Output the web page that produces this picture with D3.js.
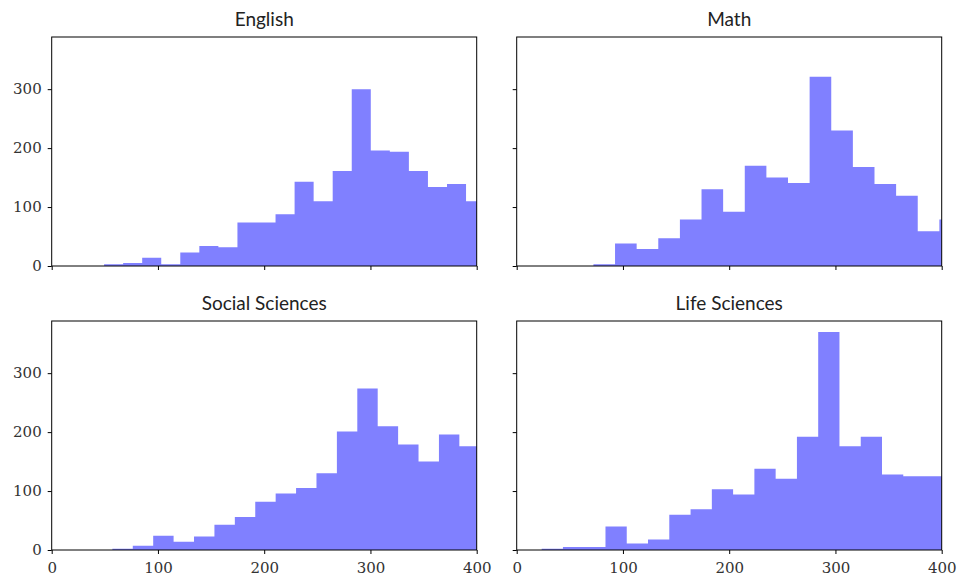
<!DOCTYPE html>
<html><head><meta charset="utf-8">
<script src="https://cdn.jsdelivr.net/npm/d3@7"></script>
<style>body{margin:0;background:#fff}</style>
</head><body>
<svg id="chart" width="958" height="582"></svg>
<script>
// Panel titles
const titles = ["English", "Math", "Social Sciences", "Life Sciences"];
// Histogram bin starts and widths (score units)
const binStarts = [49.3, 72.2, 57.1, 23.5];
const binWidths = [17.93, 20.35, 19.21, 20.02];
// Bin counts
const englishCounts = [3, 5, 14, 3, 23, 34, 32, 74, 74, 88, 143, 110, 161, 300, 196, 194, 161, 134, 139, 110];
const mathCounts = [3, 38, 29, 47, 79, 130, 92, 170, 150, 141, 321, 230, 168, 139, 119, 59, 79];
const socialCounts = [2, 7, 24, 14, 23, 43, 56, 82, 96, 105, 130, 201, 274, 210, 179, 150, 196, 176];
const lifeCounts = [2, 5, 5, 40, 11, 18, 60, 69, 103, 94, 138, 121, 192, 370, 176, 192, 128, 125, 125];
const allCounts = [englishCounts, mathCounts, socialCounts, lifeCounts];
// Ticks
const xTicks = [0, 100, 200, 300, 400];
const yTicks = [0, 100, 200, 300];

const svg = d3.select("#chart");
const panelW = 425, panelH = 229;
const lefts = [51.7, 516.7];
const tops = [37, 321];
const yMax = d3.max(allCounts.flat()) * 1.05;

const x = d3.scaleLinear().domain([0, 400]).range([0, panelW]);
const y = d3.scaleLinear().domain([0, yMax]).range([panelH, 0]);

allCounts.forEach((counts, i) => {
  const col = i % 2, row = Math.floor(i / 2);
  const g = svg.append("g").attr("transform", `translate(${lefts[col]},${tops[row]})`);
  const clipId = "clip" + i;
  g.append("clipPath").attr("id", clipId).append("rect").attr("width", panelW).attr("height", panelH);
  const bins = counts.map((c, k) => ({x0: binStarts[i] + k * binWidths[i], x1: binStarts[i] + (k + 1) * binWidths[i], c}));
  const p = d3.path();
  bins.forEach(d => { if (d.c > 0) p.rect(x(d.x0), y(d.c), x(d.x1) - x(d.x0), panelH - y(d.c)); });
  g.append("g").attr("clip-path", `url(#${clipId})`)
    .append("path").attr("d", p.toString()).attr("fill", "#8080ff");

  const xa = d3.axisBottom(x).tickValues(xTicks).tickSize(4).tickPadding(8)
    .tickFormat(row === 1 ? d3.format("d") : () => "");
  const ya = d3.axisLeft(y).tickValues(yTicks).tickSize(4).tickPadding(6)
    .tickFormat(col === 0 ? d3.format("d") : () => "");
  const gx = g.append("g").attr("transform", `translate(0,${panelH})`).call(xa);
  const gy = g.append("g").call(ya);
  [gx, gy].forEach(a => {
    a.select(".domain").remove();
    a.selectAll("line").attr("stroke", "#000").attr("stroke-width", 1);
    a.selectAll("text").attr("fill", "#333").style("font-family", "'DejaVu Serif', 'Liberation Serif', serif").style("font-size", "15px");
  });
  g.append("rect").attr("width", panelW).attr("height", panelH)
    .attr("fill", "none").attr("stroke", "#000").attr("stroke-width", 1);
  g.append("text").attr("x", panelW / 2).attr("y", -11).attr("text-anchor", "middle")
    .style("font-family", "Lato, 'Open Sans', sans-serif").style("font-size", "19px").attr("fill", "#222")
    .text(titles[i]);
});
</script>
</body></html>
